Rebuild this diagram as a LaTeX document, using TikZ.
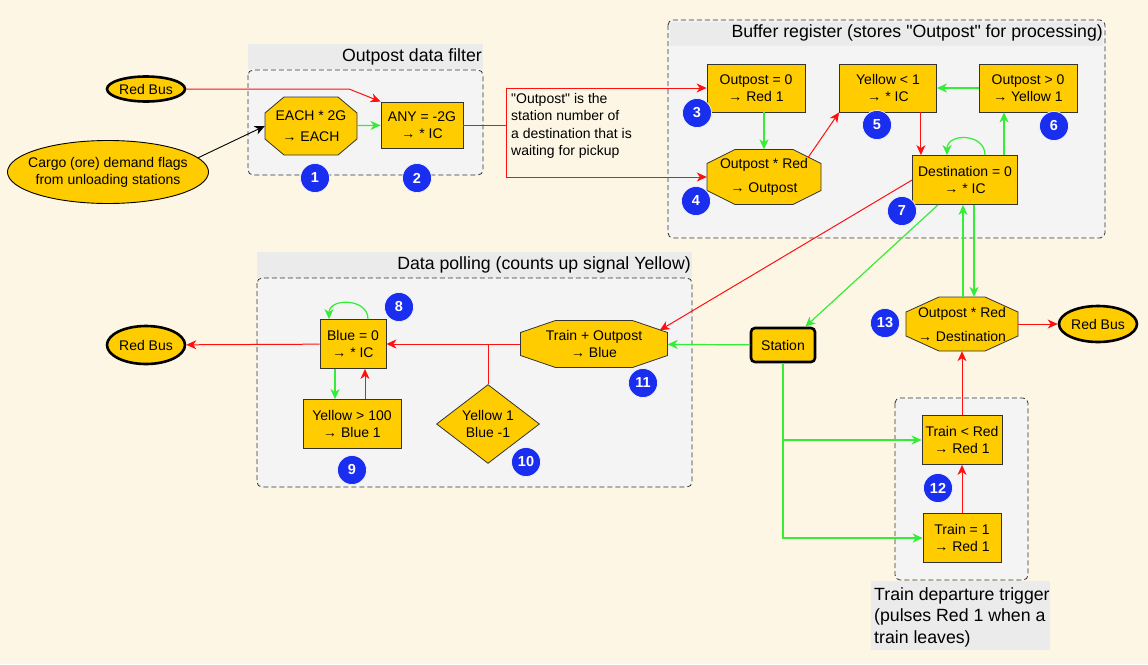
\documentclass[tikz,border=0pt]{standalone}
\usepackage{fontspec}
\setmainfont{Liberation Sans}
\usepackage{tikz}
\usetikzlibrary{shapes.geometric,arrows.meta}
\definecolor{cream}{HTML}{FDF6E4}
\definecolor{panelgray}{HTML}{F4F4F4}
\definecolor{titlegray}{HTML}{EBEBEB}
\definecolor{gold}{HTML}{FFCC00}
\definecolor{edgegray}{HTML}{333333}
\definecolor{sigred}{HTML}{FF1010}
\definecolor{siggreen}{HTML}{33EE33}
\definecolor{badgeblue}{HTML}{1A2EF0}
\newcommand{\NodeFont}{\fontsize{14}{17}\selectfont}
\newcommand{\NoteFont}{\fontsize{14}{17.5}\selectfont}
\newcommand{\TitleFont}{\fontsize{17.7}{21.5}\selectfont}
\newcommand{\BadgeFont}{\fontsize{14.5}{17}\selectfont\bfseries}
% octagon: name, x, y, width, height, corner x, corner y, text
\newcommand{\octnode}[8]{%
  \filldraw[octline] ({#2-#4/2+#6},{#3+#5/2}) -- ({#2+#4/2-#6},{#3+#5/2}) -- ({#2+#4/2},{#3+#5/2-#7})
    -- ({#2+#4/2},{#3-#5/2+#7}) -- ({#2+#4/2-#6},{#3-#5/2}) -- ({#2-#4/2+#6},{#3-#5/2})
    -- ({#2-#4/2},{#3-#5/2+#7}) -- ({#2-#4/2},{#3+#5/2-#7}) -- cycle;
  \node[octtext,minimum width=#4,minimum height=#5] (#1) at (#2,#3) {#8};}
\tikzset{
  rbox/.style={draw=edgegray,fill=gold,line width=0.8pt,font=\NodeFont,align=center,inner sep=0pt},
  octline/.style={draw=edgegray,fill=gold,line width=0.8pt},
  octtext/.style={font=\NodeFont,align=center,inner sep=0pt},
  bus/.style={ellipse,draw=black,fill=gold,line width=2.6pt,font=\NodeFont,inner sep=0pt},
  badge/.style={circle,fill=badgeblue,draw=white,line width=0.6pt,text=white,font=\BadgeFont,minimum size=29pt,inner sep=0pt},
  panel/.style={draw=edgegray,dash pattern=on 5pt off 3pt,fill=panelgray,rounded corners=5pt,line width=0.8pt},
  titlebar/.style={fill=titlegray},
  redline/.style={draw=sigred,line width=1pt},
  greenline/.style={draw=siggreen,line width=1.2pt},
  sig/.style={-{Stealth[length=10pt,width=9pt,inset=3pt]}},
}

\begin{document}
\begin{tikzpicture}[x=1pt,y=1pt]
  \fill[cream] (0,0) rectangle (1148,-664);
  \useasboundingbox (0,0) rectangle (1148,-664);

  % panels
  \fill[titlebar] (248,-44) rectangle (483,-69);
  \draw[panel] (248,-70) rectangle (483,-175);
  \node[anchor=east,font=\TitleFont,inner sep=0pt] (filtertitle) at (482,-57) {Outpost data filter};

  \draw[panel] (668,-20) rectangle (1105,-238);
  \fill[titlebar] (670,-22) rectangle (1103,-46);
  \node[anchor=east,font=\TitleFont,inner sep=0pt] (buffertitle) at (1103,-33)
    {Buffer register (stores \textquotedbl Outpost\textquotedbl{} for processing)};

  \fill[titlebar] (257,-252) rectangle (692,-278);
  \draw[panel] (257,-278) rectangle (692,-487);
  \node[anchor=east,font=\TitleFont,inner sep=0pt] (polltitle) at (691,-265) {Data polling (counts up signal Yellow)};

  \draw[panel] (895,-398) rectangle (1028,-580);
  \fill[titlebar] (871,-581) rectangle (1050,-650);
  \node[anchor=north west,font=\TitleFont,align=left,inner sep=0pt] (triggertitle) at (874,-587)
    {Train departure trigger\\(pulses Red 1 when a\\train leaves)};

  % nodes
  \node[bus,minimum width=78,minimum height=25] (busIn) at (146,-89) {Red Bus};
  \node[ellipse,draw=black,fill=gold,line width=0.9pt,font=\NodeFont,align=center,inner xsep=-12pt,inner ysep=0pt,
        minimum width=201,minimum height=63] (cargo) at (108,-172) {Cargo (ore) demand flags\\from unloading stations};
  \octnode{each}{311}{-126}{92}{58}{19}{16}{EACH * 2G\\[4pt]→ EACH}
  \node[rbox,minimum width=82,minimum height=46] (anyic) at (422,-125) {ANY = -2G\\→ * IC};
  \coordinate (split) at (506,-125);
  \node[anchor=north west,font=\NoteFont,align=left,inner sep=0pt] (note) at (511,-93)
    {\textquotedbl Outpost\textquotedbl{} is the\\station number of\\a destination that is\\waiting for pickup};

  \node[rbox,minimum width=98,minimum height=48] (outzero) at (756,-88) {Outpost = 0\\→ Red 1};
  \octnode{outmul}{764}{-177}{114}{55}{28}{14}{Outpost * Red\\[7pt]→ Outpost}
  \node[rbox,minimum width=97,minimum height=48] (yelic) at (888,-88) {Yellow < 1\\→ * IC};
  \node[rbox,minimum width=98,minimum height=48] (outpos) at (1028,-88) {Outpost > 0\\→ Yellow 1};
  \node[rbox,minimum width=105,minimum height=49] (dest) at (965,-180) {Destination = 0\\→ * IC};

  \node[rbox,minimum width=66,minimum height=49] (blue) at (353,-344) {Blue = 0\\→ * IC};
  \node[rbox,minimum width=98,minimum height=49] (yelhund) at (352,-424) {Yellow > 100\\→ Blue 1};
  \node[diamond,draw=edgegray,fill=gold,line width=0.8pt,font=\NodeFont,align=center,inner sep=0pt,
        minimum width=103,minimum height=78] (poll) at (488,-424) {Yellow 1\\Blue -1};
  \octnode{trainout}{594}{-344}{147}{47}{35}{12}{Train + Outpost\\→ Blue}
  \node[bus,minimum width=78,minimum height=38] (busOut) at (146,-345) {Red Bus};

  \node[rbox,rounded corners=4pt,draw=black,line width=2.6pt,minimum width=64,minimum height=34] (station) at (783,-345) {Station};
  \octnode{destmul}{962}{-324}{112}{54}{33}{15}{Outpost * Red\\[7pt]→ Destination}
  \node[bus,minimum width=78,minimum height=36] (busDest) at (1098,-324) {Red Bus};
  \node[rbox,minimum width=80,minimum height=49] (trainlt) at (962,-440) {Train < Red\\→ Red 1};
  \node[rbox,minimum width=78,minimum height=49] (trainone) at (962,-538) {Train = 1\\→ Red 1};

  % connectors
  \draw[redline,sig] (busIn) -- (349,-89) -- (anyic.north west);
  \draw[black,line width=0.9pt,sig] (cargo.9) -- (each.west);
  \draw[greenline,sig] (each) -- (anyic);
  \draw[redline] (anyic) -- (split);
  \draw[redline,sig] (split) |- (outzero);
  \draw[redline,sig] (split) |- (outmul);
  \draw[greenline,sig] (outzero.south -| outmul.north) -- (outmul.north);
  \draw[redline,sig] ([shift={(-13pt,-8pt)}]outmul.north east) -- (yelic.south west);
  \draw[greenline,sig] (outpos) -- (yelic);
  \draw[redline,sig] ([xshift=-16pt]yelic.south east) -- ([xshift=-16pt]yelic.south east |- dest.north);
  \draw[greenline,sig] ([xshift=-24pt]outpos.south |- dest.north) -- ([xshift=-24pt]outpos.south);
  \draw[greenline,sig] ([xshift=20pt]dest.north) to[out=90,in=90,looseness=1.5] ([xshift=-18pt]dest.north);
  \draw[redline,sig] (dest.west) -- ([shift={(-8pt,-10pt)}]trainout.north east);
  \draw[greenline,sig] ([xshift=-27pt]dest.south) -- ([xshift=-11pt]station.north east);
  \draw[greenline,sig] ([xshift=1pt]destmul.north) -- ([xshift=1pt]destmul.north |- dest.south);
  \draw[greenline,sig] ([xshift=12pt]destmul.north |- dest.south) -- ([xshift=12pt]destmul.north);
  \draw[redline,sig] (destmul) -- (busDest);
  \draw[redline,sig] (trainlt) -- (destmul);
  \draw[redline,sig] (trainone) -- (trainlt);
  \draw[greenline,sig] (station) -- (trainout);
  \draw[greenline,sig] (station.south) |- (trainone);
  \draw[greenline,sig] (station.south |- trainlt) -- (trainlt);
  \draw[redline,sig] (trainout) -- (blue);
  \draw[redline] (poll.north) -- (poll.north |- blue.east);
  \draw[redline,sig] (blue) -- (busOut);
  \draw[greenline,sig] ([xshift=-18pt]blue.south) -- ([xshift=-18pt]blue.south |- yelhund.north);
  \draw[redline,sig] ([xshift=12pt]blue.south |- yelhund.north) -- ([xshift=12pt]blue.south);
  \draw[greenline,sig] ([xshift=15pt]blue.north) to[out=90,in=90,looseness=1.4] ([xshift=-24pt]blue.north);

  % numbered badges
  \foreach \n/\x/\y in {1/315/178,2/417/178,3/697/113,4/696/201,5/877/125,6/1054/126,7/902/211,
                        8/399/307,9/352/470,10/526/462,11/643/383,12/938/488,13/885/323}
    \node[badge] (b\n) at (\x,-\y) {\n};
\end{tikzpicture}
\end{document}
